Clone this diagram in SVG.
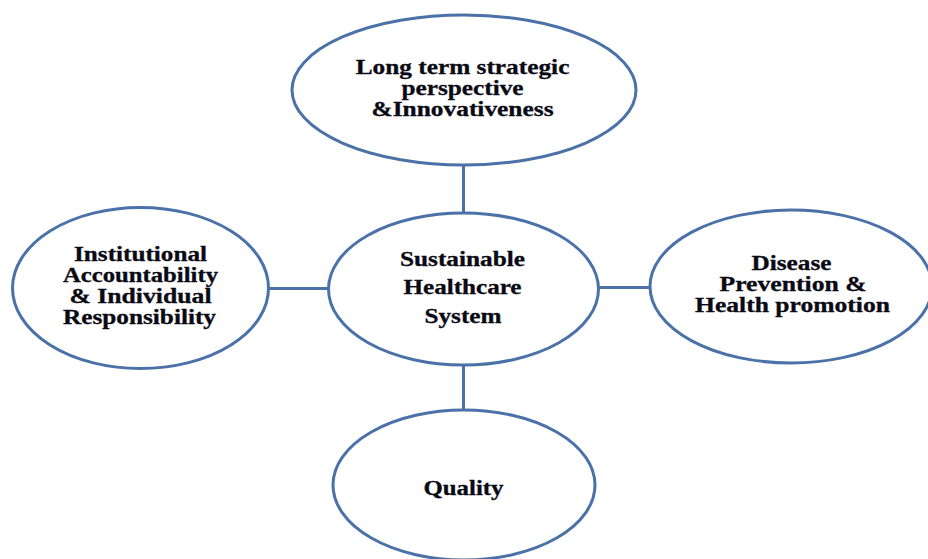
<svg xmlns="http://www.w3.org/2000/svg" width="928" height="559" viewBox="0 0 928 559">
<style>
.node ellipse{fill:#fff;stroke:#4a72a8;stroke-width:3}
.conn line{stroke:#4a72a8;stroke-width:3}
text{font-family:"Liberation Serif","Times New Roman",serif;font-weight:bold;font-size:20px;fill:#0a0a14;text-anchor:middle;stroke:#0a0a14;stroke-width:0.3}
</style>
<rect width="928" height="559" fill="#fff"/>
<g id="connectors" class="conn">
<line x1="463.5" y1="165" x2="463.5" y2="213"/>
<line x1="268" y1="288.5" x2="329" y2="288.5"/>
<line x1="598" y1="287.5" x2="651" y2="287.5"/>
<line x1="463.5" y1="365" x2="463.5" y2="410"/>
</g>
<g id="node-top" class="node">
<ellipse cx="464" cy="90" rx="172" ry="75"/>
<g transform="translate(462.5,0) scale(1.25,1)">
<text x="0" y="74.5" textLength="171" lengthAdjust="spacingAndGlyphs">Long term strategic</text>
<text x="0" y="95.5" textLength="97.6" lengthAdjust="spacingAndGlyphs">perspective</text>
<text x="0" y="116.5" textLength="145.6" lengthAdjust="spacingAndGlyphs">&amp;Innovativeness</text>
</g>
</g>
<g id="node-left" class="node">
<ellipse cx="140.5" cy="288" rx="128" ry="80.5"/>
<g transform="translate(140.5,0) scale(1.25,1)">
<text x="0" y="261.5" textLength="106.4" lengthAdjust="spacingAndGlyphs">Institutional</text>
<text x="0" y="282.5" textLength="124" lengthAdjust="spacingAndGlyphs">Accountability</text>
<text x="0" y="303.5" textLength="113.6" lengthAdjust="spacingAndGlyphs">&amp; Individual</text>
<text x="-0.8" y="324.5" textLength="122.4" lengthAdjust="spacingAndGlyphs">Responsibility</text>
</g>
</g>
<g id="node-center" class="node">
<ellipse cx="463.5" cy="289" rx="135" ry="76"/>
<g transform="translate(462.5,0) scale(1.25,1)">
<text x="0" y="266" textLength="100" lengthAdjust="spacingAndGlyphs">Sustainable</text>
<text x="0" y="294.5" textLength="94.4" lengthAdjust="spacingAndGlyphs">Healthcare</text>
<text x="0.4" y="323" textLength="61.6" lengthAdjust="spacingAndGlyphs">System</text>
</g>
</g>
<g id="node-right" class="node">
<ellipse cx="791" cy="286.5" rx="141" ry="76.5"/>
<g transform="translate(792.5,0) scale(1.25,1)">
<text x="-0.8" y="270" textLength="64" lengthAdjust="spacingAndGlyphs">Disease</text>
<text x="0.4" y="291" textLength="117.6" lengthAdjust="spacingAndGlyphs">Prevention &amp;</text>
<text x="0" y="312.5" textLength="156" lengthAdjust="spacingAndGlyphs">Health promotion</text>
</g>
</g>
<g id="node-bottom" class="node">
<ellipse cx="464" cy="485" rx="131" ry="75"/>
<g transform="translate(463.5,0) scale(1.25,1)">
<text x="0" y="495" textLength="64" lengthAdjust="spacingAndGlyphs">Quality</text>
</g>
</g>
</svg>
